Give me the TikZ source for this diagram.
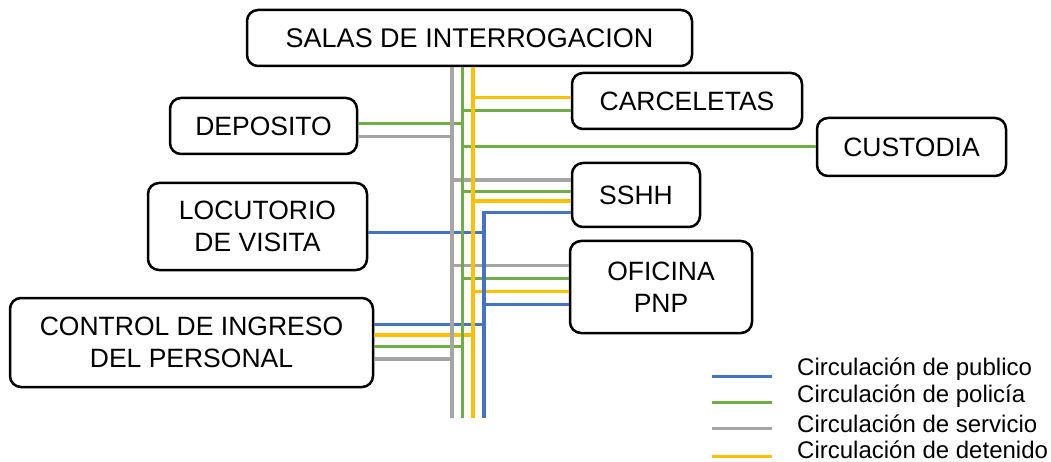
\documentclass[tikz,border=0pt]{standalone}
\usepackage{fontspec}
\setmainfont{Liberation Sans}
\definecolor{cpub}{HTML}{4472C4}
\definecolor{cpol}{HTML}{70AD47}
\definecolor{cser}{HTML}{A5A5A5}
\definecolor{cdet}{HTML}{FFC000}
\tikzset{
  sala/.style={draw,line width=2.5pt,rounded corners=11pt,align=center,inner sep=0pt,
    font=\fontsize{26.5}{32.5}\selectfont},
  publico/.style={line width=3.3pt,cpub},
  policia/.style={line width=3.3pt,cpol},
  servicio/.style={line width=3.3pt,cser},
  detenido/.style={line width=3.3pt,cdet},
  leyenda/.style={anchor=west,inner sep=0pt,font=\fontsize{24}{28}\selectfont}
}
\begin{document}
\begin{tikzpicture}[x=1pt,y=-1pt]
\useasboundingbox (0,0) rectangle (1051,462);
% ambientes
\node[sala,minimum width=445pt,minimum height=56pt,font=\fontsize{27}{33}\selectfont] (salas) at (469.5,38) {SALAS DE INTERROGACION};
\node[sala,minimum width=230pt,minimum height=56pt] (carceletas) at (687,101) {CARCELETAS};
\node[sala,minimum width=187pt,minimum height=56pt] (deposito) at (263.5,126) {DEPOSITO};
\node[sala,minimum width=189pt,minimum height=58pt] (custodia) at (911.5,147) {CUSTODIA};
\node[sala,minimum width=128pt,minimum height=64pt] (sshh) at (636,195) {SSHH};
\node[sala,minimum width=219pt,minimum height=87pt] (locutorio) at (257.5,226.5) {LOCUTORIO\\DE VISITA};
\node[sala,minimum width=182pt,minimum height=92pt] (oficina) at (661,287) {OFICINA\\PNP};
\node[sala,minimum width=363pt,minimum height=89pt] (control) at (191.5,342.5) {CONTROL DE INGRESO\\DEL PERSONAL};
% troncales (extremo inferior)
\coordinate (ser) at (452,418);
\coordinate (pol) at (462.5,418);
\coordinate (det) at (473,418);
\coordinate (pub) at (484,418);
% ramales
\draw[detenido] (carceletas.west |- 0,97.7) -- (det |- 0,97.7);
\draw[policia] (carceletas.west |- 0,110.7) -- (pol |- 0,110.7);
\draw[policia] (deposito.east |- 0,123.3) -- (pol |- 0,123.3);
\draw[servicio] (deposito.east |- 0,136.7) -- (ser |- 0,136.7);
\draw[policia] (custodia.west |- 0,146.7) -- (pol |- 0,146.7);
\draw[servicio] (sshh.west |- 0,180) -- (ser |- 0,180);
\draw[policia] (sshh.west |- 0,191.7) -- (pol |- 0,191.7);
\draw[detenido] (sshh.west |- 0,201) -- (det |- 0,201);
\draw[publico] (locutorio.east |- 0,232.7) -- (pub |- 0,232.7);
\draw[servicio] (oficina.west |- 0,265.7) -- (ser |- 0,265.7);
\draw[policia] (oficina.west |- 0,278.3) -- (pol |- 0,278.3);
\draw[detenido] (oficina.west |- 0,291.7) -- (det |- 0,291.7);
\draw[publico] (oficina.west |- 0,304.3) -- (pub |- 0,304.3);
\draw[publico] (control.east |- 0,324.3) -- (pub |- 0,324.3);
\draw[detenido] (control.east |- 0,335) -- (det |- 0,335);
\draw[policia] (control.east |- 0,346.7) -- (pol |- 0,346.7);
\draw[servicio] (control.east |- 0,359) -- (ser |- 0,359);
% troncales
\draw[servicio] (salas.south -| ser) -- (ser);
\draw[policia] (salas.south -| pol) -- (pol);
\draw[detenido] (salas.south -| det) -- (det);
\draw[publico] (sshh.west |- 0,212.3) -| (pub);
% leyenda
\node[leyenda] (lpub) at (797,369.5) {Circulación de publico};
\node[leyenda] (lpol) at (797,396.5) {Circulación de policía};
\node[leyenda] (lser) at (797,423.5) {Circulación de servicio};
\node[leyenda] (ldet) at (797,449.5) {Circulación de detenido};
\draw[publico] ([xshift=-25pt,yshift=-7pt]lpub.west) -- ++(-60,0);
\draw[policia] ([xshift=-25pt,yshift=-6pt]lpol.west) -- ++(-60,0);
\draw[servicio] ([xshift=-25pt,yshift=-5pt]lser.west) -- ++(-60,0);
\draw[detenido] ([xshift=-25pt,yshift=-7pt]ldet.west) -- ++(-60,0);
\end{tikzpicture}
\end{document}
